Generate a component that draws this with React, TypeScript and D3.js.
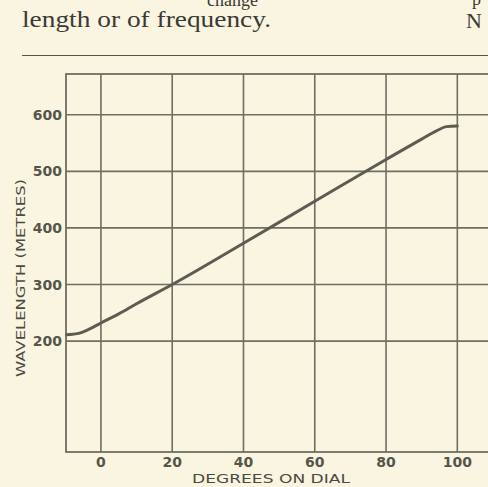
import React from "react";
import * as d3 from "d3";

const W = 488;
const H = 487;

const xTicks = [0, 20, 40, 60, 80, 100];
const yTicks = [200, 300, 400, 500, 600];
const xDomain = [-9.8, 110];
const yDomain = [4, 672];

const curveX = [-9.6, -8, -6, -4, -2, 0, 5, 10, 20, 40, 60, 80, 90, 94, 97, 100];
const curveY = [211, 212, 214, 219, 225, 232, 248, 266, 300, 373, 447, 521, 557, 571, 579, 580];

const xLabel = "DEGREES ON DIAL";
const yLabel = "WAVELENGTH  (METRES)";

export default function App() {
  const x = d3.scaleLinear().domain(xDomain).range([66, 66 + (110 + 9.8) * 3.564]);
  const y = d3.scaleLinear().domain(yDomain).range([452, 74]);
  const pts = curveX.map((v, i) => [v, curveY[i]] as [number, number]);
  const line = d3
    .line<[number, number]>()
    .x((d) => x(d[0]))
    .y((d) => y(d[1]))
    .curve(d3.curveMonotoneX);

  const grid = "#6e6e62";
  const labelFont = "'DejaVu Sans', sans-serif";

  return (
    <svg
      width={W}
      height={H}
      style={{ position: "absolute", left: 0, top: 0, background: "#f9f5e1" }}
    >
      <rect x={0} y={0} width={W} height={H} fill="#f9f5e1" />
      {/* page text */}
      <text x={207} y={6} fontFamily="'Liberation Serif', serif" fontSize={18} fill="#3a3a35">
        change
      </text>
      <text x={472} y={5} fontFamily="'Liberation Serif', serif" fontSize={18} fill="#3a3a35">
        p
      </text>
      <text
        x={22}
        y={27}
        fontFamily="'Liberation Serif', serif"
        fontSize={23}
        fill="#3a3a35"
        textLength={249}
        lengthAdjust="spacingAndGlyphs"
      >
        length or of frequency.
      </text>
      <text x={466} y={28} fontFamily="'Liberation Serif', serif" fontSize={22} fill="#3a3a35">
        N
      </text>
      <line x1={22} x2={W} y1={55.5} y2={55.5} stroke="#55554c" strokeWidth={1.2} />

      {/* grid */}
      {xTicks.map((t) => (
        <line key={"vx" + t} x1={x(t)} x2={x(t)} y1={y(yDomain[1])} y2={y(yDomain[0])} stroke={grid} strokeWidth={1.6} />
      ))}
      {yTicks.map((t) => (
        <line key={"hy" + t} x1={x(xDomain[0])} x2={x(xDomain[1])} y1={y(t)} y2={y(t)} stroke={grid} strokeWidth={1.6} />
      ))}
      <rect
        x={x(xDomain[0])}
        y={y(yDomain[1])}
        width={x(xDomain[1]) - x(xDomain[0])}
        height={y(yDomain[0]) - y(yDomain[1])}
        fill="none"
        stroke={grid}
        strokeWidth={1.8}
      />

      {/* curve */}
      <path d={line(pts) || ""} fill="none" stroke="#5c5c52" strokeWidth={3} strokeLinecap="round" />

      {/* tick labels */}
      {yTicks.map((t) => (
        <text
          key={"yl" + t}
          x={62}
          y={y(t) + 5}
          textAnchor="end"
          fontFamily={labelFont}
          fontSize={14}
          fontWeight="bold"
          fill="#55554c"
        >
          {t}
        </text>
      ))}
      {xTicks.map((t) => (
        <text
          key={"xl" + t}
          x={x(t)}
          y={467}
          textAnchor="middle"
          fontFamily={labelFont}
          fontSize={14}
          fontWeight="bold"
          fill="#55554c"
        >
          {t}
        </text>
      ))}

      <text
        x={271}
        y={483}
        textAnchor="middle"
        fontFamily={labelFont}
        fontSize={13}
        fill="#4a4a42"
        textLength={158}
        lengthAdjust="spacingAndGlyphs"
      >
        {xLabel}
      </text>
      <text
        transform={`translate(25, 278) rotate(-90)`}
        textAnchor="middle"
        fontFamily={labelFont}
        fontSize={13}
        fill="#4a4a42"
        textLength={198}
        lengthAdjust="spacingAndGlyphs"
      >
        {yLabel}
      </text>
    </svg>
  );
}
